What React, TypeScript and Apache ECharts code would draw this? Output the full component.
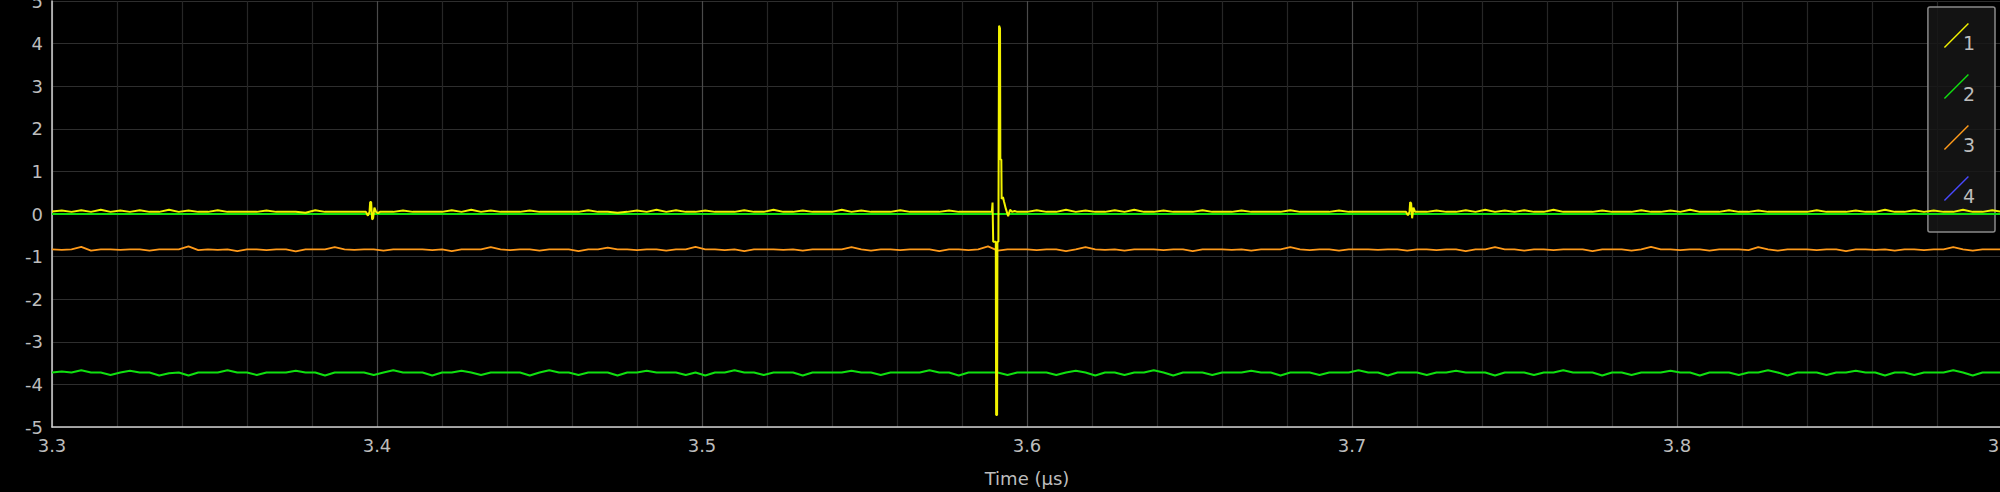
import React, { useEffect, useRef } from "react";
import * as echarts from "echarts";

// ---- Data -------------------------------------------------------------
const T0 = 3.3; // µs, first sample
const STEP = 0.003; // µs between samples

const timeTicks = ["3.3", "3.4", "3.5", "3.6", "3.7", "3.8", "3.9"];
const voltTicks = [-5, -4, -3, -2, -1, 0, 1, 2, 3, 4, 5];
const seriesNames = ["1", "2", "3", "4"];

// Channel 1 (yellow) uniform samples
const ch1Values = [
  0.06, 0.08, 0.05, 0.09, 0.05, 0.1, 0.05, 0.08, 0.05, 0.09, 0.05, 0.05, 0.1, 0.05, 0.08, 0.05, 0.05, 0.09, 0.05, 0.05,
  0.05, 0.05, 0.08, 0.05, 0.05, 0.05, 0.03, 0.09, 0.05, 0.05, 0.05, 0.05, 0.05, 0.05, 0.05, 0.05, 0.08, 0.05, 0.05, 0.05,
  0.05, 0.09, 0.05, 0.1, 0.05, 0.08, 0.05, 0.05, 0.05, 0.08, 0.05, 0.05, 0.05, 0.05, 0.05, 0.09, 0.05, 0.05, 0.03, 0.05,
  0.08, 0.05, 0.1, 0.05, 0.09, 0.05, 0.05, 0.08, 0.05, 0.05, 0.05, 0.09, 0.05, 0.05, 0.1, 0.05, 0.05, 0.08, 0.05, 0.05,
  0.05, 0.1, 0.05, 0.08, 0.05, 0.05, 0.05, 0.09, 0.05, 0.05, 0.05, 0.05, 0.08, 0.05, 0.05, 0.05, 0.05, 0.05, 0.05, 0.05,
  0.05, 0.09, 0.05, 0.05, 0.1, 0.05, 0.08, 0.05, 0.05, 0.09, 0.05, 0.1, 0.05, 0.05, 0.08, 0.05, 0.05, 0.05, 0.09, 0.05,
  0.05, 0.05, 0.08, 0.05, 0.05, 0.05, 0.05, 0.09, 0.05, 0.05, 0.05, 0.05, 0.08, 0.05, 0.05, 0.05, 0.05, 0.05, 0.05, 0.05,
  0.05, 0.05, 0.08, 0.05, 0.05, 0.09, 0.05, 0.1, 0.05, 0.08, 0.05, 0.09, 0.05, 0.05, 0.1, 0.05, 0.05, 0.05, 0.05, 0.08,
  0.05, 0.05, 0.05, 0.09, 0.05, 0.05, 0.08, 0.05, 0.1, 0.05, 0.05, 0.05, 0.09, 0.05, 0.05, 0.08, 0.05, 0.05, 0.05, 0.05,
  0.05, 0.09, 0.05, 0.05, 0.05, 0.08, 0.05, 0.05, 0.1, 0.05, 0.05, 0.09, 0.05, 0.08, 0.05, 0.05, 0.1, 0.05, 0.05, 0.09,
  0.05,
];

// Channel 1 fine detail: glitches and the main spike [time µs, volts]
const ch1Glitch1 = [
  [3.3966, 0.05], [3.3972, -0.04], [3.3977, 0.05], [3.3979, 0.28], [3.3982, 0.28], [3.3985, -0.13],
  [3.3988, -0.1], [3.3992, 0.15], [3.3997, 0.05], [3.4003, 0.02], [3.4009, 0.05],
];
const ch1Spike = [
  [3.5886, 0.05], [3.5892, 0.06], [3.5894, 0.27], [3.5896, -0.65], [3.5904, -0.65], [3.5905, -4.72],
  [3.5908, -4.72], [3.5909, -0.65], [3.5912, -0.65], [3.5914, 4.42], [3.5917, 4.36], [3.5918, 1.28],
  [3.5921, 1.28], [3.5922, 0.35], [3.5926, 0.4], [3.5929, 0.3], [3.5935, 0.12], [3.5942, -0.05],
  [3.5948, 0.1], [3.5954, 0.05], [3.5962, 0.07],
];
const ch1Glitch2 = [
  [3.7166, 0.05], [3.7172, -0.03], [3.7177, 0.05], [3.7179, 0.28], [3.7182, 0.25], [3.7185, -0.1],
  [3.7189, 0.15], [3.7194, 0.05], [3.7200, 0.05],
];

// Channel 2 (green) uniform samples
const ch2Values = [
  -3.72, -3.7, -3.72, -3.67, -3.72, -3.72, -3.78, -3.72, -3.68, -3.72, -3.72, -3.79, -3.74, -3.72, -3.79, -3.72, -3.72, -3.72, -3.67, -3.72,
  -3.72, -3.78, -3.72, -3.72, -3.72, -3.68, -3.72, -3.72, -3.79, -3.72, -3.72, -3.72, -3.72, -3.78, -3.72, -3.67, -3.72, -3.72, -3.72, -3.79,
  -3.72, -3.72, -3.68, -3.72, -3.78, -3.72, -3.72, -3.72, -3.72, -3.79, -3.72, -3.67, -3.72, -3.72, -3.78, -3.72, -3.72, -3.72, -3.79, -3.72,
  -3.72, -3.68, -3.72, -3.72, -3.72, -3.78, -3.72, -3.79, -3.72, -3.72, -3.67, -3.72, -3.72, -3.78, -3.72, -3.72, -3.72, -3.79, -3.72, -3.72,
  -3.72, -3.72, -3.68, -3.72, -3.72, -3.78, -3.72, -3.72, -3.72, -3.72, -3.67, -3.72, -3.72, -3.79, -3.72, -3.72, -3.72, -3.72, -3.78, -3.72,
  -3.72, -3.72, -3.72, -3.78, -3.72, -3.68, -3.72, -3.79, -3.72, -3.72, -3.78, -3.72, -3.72, -3.67, -3.72, -3.79, -3.72, -3.72, -3.72, -3.78,
  -3.72, -3.72, -3.72, -3.68, -3.72, -3.72, -3.79, -3.72, -3.72, -3.72, -3.78, -3.72, -3.72, -3.72, -3.67, -3.72, -3.72, -3.79, -3.72, -3.72,
  -3.72, -3.78, -3.72, -3.72, -3.68, -3.72, -3.72, -3.72, -3.79, -3.72, -3.72, -3.72, -3.78, -3.72, -3.72, -3.67, -3.72, -3.72, -3.72, -3.79,
  -3.72, -3.72, -3.78, -3.72, -3.72, -3.72, -3.68, -3.72, -3.72, -3.79, -3.72, -3.72, -3.72, -3.78, -3.72, -3.72, -3.67, -3.72, -3.79, -3.72,
  -3.72, -3.72, -3.78, -3.72, -3.72, -3.68, -3.72, -3.72, -3.79, -3.72, -3.72, -3.78, -3.72, -3.72, -3.72, -3.67, -3.72, -3.79, -3.72, -3.72,
  -3.72,
];
const ch2Offset = 0; // channel 2 ground reference level (volts)

// Channel 3 (orange) uniform samples
const ch3Values = [
  -0.83, -0.84, -0.83, -0.77, -0.86, -0.83, -0.83, -0.84, -0.83, -0.83, -0.86, -0.83, -0.83, -0.83, -0.76, -0.85, -0.83, -0.84, -0.83, -0.87,
  -0.83, -0.83, -0.85, -0.83, -0.83, -0.88, -0.83, -0.83, -0.83, -0.78, -0.83, -0.84, -0.83, -0.83, -0.86, -0.83, -0.83, -0.83, -0.83, -0.85,
  -0.83, -0.87, -0.83, -0.83, -0.83, -0.78, -0.83, -0.85, -0.83, -0.83, -0.86, -0.83, -0.83, -0.83, -0.87, -0.83, -0.83, -0.79, -0.83, -0.83,
  -0.85, -0.83, -0.83, -0.86, -0.83, -0.83, -0.77, -0.83, -0.83, -0.85, -0.83, -0.87, -0.83, -0.83, -0.83, -0.84, -0.83, -0.86, -0.83, -0.83,
  -0.83, -0.83, -0.78, -0.83, -0.86, -0.83, -0.83, -0.85, -0.83, -0.83, -0.83, -0.87, -0.83, -0.83, -0.85, -0.83, -0.76, -0.86, -0.83, -0.83,
  -0.83, -0.85, -0.83, -0.83, -0.87, -0.83, -0.78, -0.83, -0.84, -0.83, -0.86, -0.83, -0.83, -0.83, -0.85, -0.83, -0.83, -0.87, -0.83, -0.83,
  -0.83, -0.84, -0.83, -0.86, -0.83, -0.83, -0.83, -0.78, -0.83, -0.85, -0.83, -0.83, -0.86, -0.83, -0.83, -0.83, -0.84, -0.83, -0.83, -0.86,
  -0.83, -0.83, -0.85, -0.83, -0.83, -0.87, -0.83, -0.83, -0.78, -0.83, -0.83, -0.86, -0.83, -0.83, -0.85, -0.83, -0.83, -0.83, -0.87, -0.83,
  -0.83, -0.83, -0.86, -0.83, -0.77, -0.83, -0.83, -0.85, -0.83, -0.83, -0.86, -0.83, -0.83, -0.83, -0.85, -0.78, -0.83, -0.86, -0.83, -0.83,
  -0.83, -0.85, -0.83, -0.83, -0.87, -0.83, -0.83, -0.84, -0.83, -0.86, -0.83, -0.83, -0.85, -0.83, -0.83, -0.78, -0.83, -0.86, -0.83, -0.83,
  -0.83,
];

// Channel 4 (blue) has no visible trace
const ch4Values: number[] = [];

// ---- Helpers ----------------------------------------------------------
const toPairs = (vals: number[]) =>
  vals.map((v, i) => [Number((T0 + i * STEP).toFixed(4)), v]);

const detailWindows = [
  [3.3955, 3.4015],
  [3.5875, 3.5965],
  [3.7155, 3.7205],
];

function buildCh1() {
  const base = toPairs(ch1Values).filter(
    ([t]) => !detailWindows.some(([a, b]) => t >= a && t <= b)
  );
  const all = base.concat(ch1Glitch1, ch1Spike, ch1Glitch2);
  all.sort((p, q) => p[0] - q[0]);
  return all;
}

const COLORS = ["#f2f200", "#10e010", "#ff9a1a", "#4848ff"];
const FONT = "DejaVu Sans";

export default function App() {
  const ref = useRef<HTMLDivElement>(null);
  useEffect(() => {
    document.body.style.margin = "0";
    document.body.style.background = "#000";
    if (!ref.current) return;
    const chart = echarts.init(ref.current, undefined, { renderer: "svg" });
    // diagonal stroke in the top 25 units, tiny anchor at the bottom so the label sits lower
    const lineIcon = "path://M0,24 L24,0 L25,1 L1,25 Z M0,39.9 L0.1,40 L0,40 Z";
    chart.setOption({
      animation: false,
      backgroundColor: "#000000",
      textStyle: { fontFamily: FONT },
      grid: { left: 52, right: -2, top: 1, bottom: 65, containLabel: false, outerBoundsMode: "none" },
      legend: {
        data: seriesNames,
        orient: "vertical",
        right: 5,
        top: 7,
        icon: lineIcon,
        itemWidth: 25,
        itemHeight: 40,
        itemGap: 11,
        padding: [16, 20, 16, 16],
        backgroundColor: "rgba(22,22,22,0.85)",
        borderColor: "#8a8a8a",
        borderWidth: 1.5,
        borderRadius: 2,
        textStyle: {
          color: "#bdbdbd",
          fontSize: 19,
          fontFamily: FONT,
          padding: [0, 0, 0, -11],
        },
      },
      xAxis: {
        type: "value",
        min: 3.3,
        max: 3.9,
        interval: 0.1,
        name: "Time (µs)",
        nameLocation: "middle",
        nameGap: 42,
        nameTextStyle: { color: "#bdbdbd", fontSize: 18, fontFamily: FONT },
        axisLine: { show: true, onZero: false, lineStyle: { color: "#d0d0d0", width: 1.5 } },
        axisTick: { show: false },
        axisLabel: {
          color: "#bdbdbd",
          fontSize: 18,
          fontFamily: FONT,
          margin: 9,
          hideOverlap: false,
          formatter: (v: number) => {
            const s = v.toFixed(1);
            return timeTicks.includes(s) ? s : "";
          },
        },
        splitLine: { show: true, lineStyle: { color: "#4a4a4a", width: 1.2 } },
        minorTick: { show: false, splitNumber: 5 },
        minorSplitLine: { show: true, lineStyle: { color: "#262626", width: 1.2 } },
      },
      yAxis: {
        type: "value",
        min: voltTicks[0],
        max: voltTicks[voltTicks.length - 1],
        interval: 1,
        axisLine: { show: true, onZero: false, lineStyle: { color: "#d0d0d0", width: 1.5 } },
        axisTick: { show: false },
        axisLabel: { color: "#bdbdbd", fontSize: 18, fontFamily: FONT, margin: 9 },
        splitLine: { show: true, lineStyle: { color: "#2e2e2e", width: 1.2 } },
      },
      series: [
        {
          name: seriesNames[0],
          type: "line",
          data: buildCh1(),
          showSymbol: false,
          symbol: "none",
          z: 5,
          color: COLORS[0],
          lineStyle: { color: COLORS[0], width: 2 },
        },
        {
          name: seriesNames[1],
          type: "line",
          data: toPairs(ch2Values),
          showSymbol: false,
          symbol: "none",
          z: 3,
          color: COLORS[1],
          lineStyle: { color: COLORS[1], width: 2 },
          markLine: {
            silent: true,
            symbol: ["none", "none"],
            label: { show: false },
            lineStyle: { color: COLORS[1], width: 2, type: "solid" },
            data: [{ yAxis: ch2Offset }],
          },
        },
        {
          name: seriesNames[2],
          type: "line",
          data: toPairs(ch3Values),
          showSymbol: false,
          symbol: "none",
          z: 3,
          color: COLORS[2],
          lineStyle: { color: COLORS[2], width: 1.8 },
        },
        {
          name: seriesNames[3],
          type: "line",
          data: toPairs(ch4Values),
          showSymbol: false,
          symbol: "none",
          z: 3,
          color: COLORS[3],
          lineStyle: { color: COLORS[3], width: 2 },
        },
      ],
    });
    return () => chart.dispose();
  }, []);
  return <div ref={ref} style={{ width: 2000, height: 492, background: "#000" }} />;
}
